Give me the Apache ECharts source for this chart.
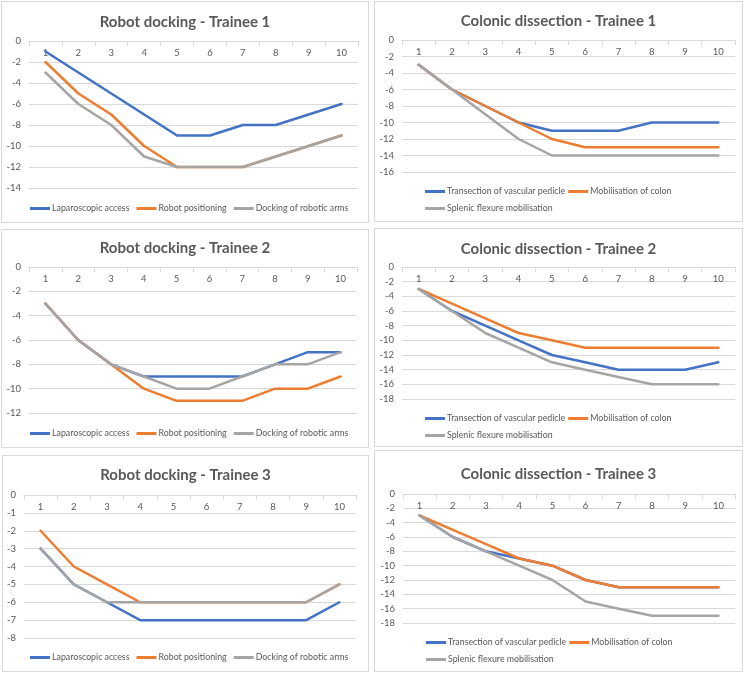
<!DOCTYPE html>
<html>
<head>
<meta charset="utf-8">
<script src="https://cdn.jsdelivr.net/npm/echarts@6/dist/echarts.min.js"></script>
<style>
  html, body { margin: 0; padding: 0; background: #ffffff; }
  body { width: 746px; height: 673px; position: relative; overflow: hidden; }
  .panel { position: absolute; box-sizing: border-box; border: 1px solid #D9D9D9; background: #fff; }
  .chart { position: absolute; left: 0; top: 0; width: 100%; height: 100%; }
</style>
</head>
<body>
<div class="panel" id="p1" style="left:1px;top:1px;width:368px;height:222px;"><div class="chart" id="c1"></div></div>
<div class="panel" id="p2" style="left:374px;top:1px;width:369px;height:221px;"><div class="chart" id="c2"></div></div>
<div class="panel" id="p3" style="left:1px;top:229px;width:368px;height:219px;"><div class="chart" id="c3"></div></div>
<div class="panel" id="p4" style="left:374px;top:228px;width:369px;height:219px;"><div class="chart" id="c4"></div></div>
<div class="panel" id="p5" style="left:2px;top:455px;width:367px;height:217px;"><div class="chart" id="c5"></div></div>
<div class="panel" id="p6" style="left:374px;top:450px;width:369px;height:222px;"><div class="chart" id="c6"></div></div>
<script>
// ---- Data ----
const categories = ['1', '2', '3', '4', '5', '6', '7', '8', '9', '10'];
const robotNames = ['Laparoscopic access', 'Robot positioning', 'Docking of robotic arms'];
const colonNames = ['Transection of vascular pedicle', 'Mobilisation of colon', 'Splenic flexure mobilisation'];
const titles = [
  'Robot docking - Trainee 1', 'Colonic dissection - Trainee 1',
  'Robot docking - Trainee 2', 'Colonic dissection - Trainee 2',
  'Robot docking - Trainee 3', 'Colonic dissection - Trainee 3'
];

// Robot docking - Trainee 1
const rd1Lap  = [-1, -3, -5, -7, -9, -9, -8, -8, -7, -6];
const rd1Pos  = [-2, -5, -7, -10, -12, -12, -12, -11, -10, -9];
const rd1Dock = [-3, -6, -8, -11, -12, -12, -12, -11, -10, -9];
// Colonic dissection - Trainee 1
const cd1Trans  = [-3, -6, -8, -10, -11, -11, -11, -10, -10, -10];
const cd1Mob    = [-3, -6, -8, -10, -12, -13, -13, -13, -13, -13];
const cd1Splen  = [-3, -6, -9, -12, -14, -14, -14, -14, -14, -14];
// Robot docking - Trainee 2
const rd2Lap  = [-3, -6, -8, -9, -9, -9, -9, -8, -7, -7];
const rd2Pos  = [-3, -6, -8, -10, -11, -11, -11, -10, -10, -9];
const rd2Dock = [-3, -6, -8, -9, -10, -10, -9, -8, -8, -7];
// Colonic dissection - Trainee 2
const cd2Trans  = [-3, -6, -8, -10, -12, -13, -14, -14, -14, -13];
const cd2Mob    = [-3, -5, -7, -9, -10, -11, -11, -11, -11, -11];
const cd2Splen  = [-3, -6, -9, -11, -13, -14, -15, -16, -16, -16];
// Robot docking - Trainee 3
const rd3Lap  = [-3, -5, -6, -7, -7, -7, -7, -7, -7, -6];
const rd3Pos  = [-2, -4, -5, -6, -6, -6, -6, -6, -6, -5];
const rd3Dock = [-3, -5, -6, -6, -6, -6, -6, -6, -6, -5];
// Colonic dissection - Trainee 3
const cd3Trans  = [-3, -6, -8, -9, -10, -12, -13, -13, -13, -13];
const cd3Mob    = [-3, -5, -7, -9, -10, -12, -13, -13, -13, -13];
const cd3Splen  = [-3, -6, -8, -10, -12, -15, -16, -17, -17, -17];

// Y axis ranges (min, interval)
const yMins      = [-14, -16, -12, -18, -8, -18];
const yIntervals = [2, 2, 2, 2, 1, 2];

// ---- Styling / layout ----
const COLORS = ['#4472C4', '#ED7D31', '#A5A5A5'];
const TXT = '#595959';
const GRID = '#D9D9D9';
const FONT = 'Lato, "Open Sans", sans-serif';

const layouts = [
  { grid: { left: 27, top: 39, right: 10, bottom: 34 }, titleTop: 8, legendLeft: 28, legendTops: [202] },
  { grid: { left: 27, top: 38, right: 7, bottom: 49 }, titleTop: 7, legendLeft: 50, legendTops: [185, 202] },
  { grid: { left: 27, top: 37, right: 11, bottom: 34 }, titleTop: 6, legendLeft: 28, legendTops: [199] },
  { grid: { left: 27, top: 38, right: 7, bottom: 47 }, titleTop: 8, legendLeft: 50, legendTops: [185, 202] },
  { grid: { left: 21, top: 39, right: 12, bottom: 33 }, titleTop: 7, legendLeft: 27, legendTops: [197] },
  { grid: { left: 28, top: 43, right: 7, bottom: 48 }, titleTop: 11, legendLeft: 51, legendTops: [187, 204] }
];

const panelData = [
  [robotNames, [rd1Lap, rd1Pos, rd1Dock]],
  [colonNames, [cd1Trans, cd1Mob, cd1Splen]],
  [robotNames, [rd2Lap, rd2Pos, rd2Dock]],
  [colonNames, [cd2Trans, cd2Mob, cd2Splen]],
  [robotNames, [rd3Lap, rd3Pos, rd3Dock]],
  [colonNames, [cd3Trans, cd3Mob, cd3Splen]]
];

function makeLegend(data, left, top, gap) {
  return {
    data: data,
    orient: 'horizontal',
    left: left,
    top: top,
    width: 340,
    icon: 'rect',
    itemWidth: 20,
    itemHeight: 3,
    itemGap: gap,
    padding: 0,
    selectedMode: false,
    textStyle: { fontFamily: FONT, fontSize: 8.8, color: TXT, padding: [0, 0, 0, -3] }
  };
}

function buildOption(i) {
  const L = layouts[i];
  const names = panelData[i][0];
  const values = panelData[i][1];
  const isColon = names === colonNames;
  const legends = isColon
    ? [makeLegend([names[0], names[1]], L.legendLeft, L.legendTops[0], 3),
       makeLegend([names[2]], L.legendLeft, L.legendTops[1], 3)]
    : [makeLegend(names, L.legendLeft, L.legendTops[0], 7)];
  return {
    animation: false,
    textStyle: { fontFamily: FONT },
    title: {
      text: titles[i],
      left: 'center',
      top: L.titleTop,
      textStyle: { fontFamily: FONT, fontSize: 15, fontWeight: 'bold', color: TXT }
    },
    legend: legends,
    grid: Object.assign({ containLabel: false }, L.grid),
    xAxis: {
      type: 'category',
      data: categories,
      position: 'top',
      boundaryGap: true,
      axisLine: { show: true, lineStyle: { color: GRID, width: 1 } },
      axisTick: { show: true, inside: true, length: 5, lineStyle: { color: GRID } },
      axisLabel: { inside: true, margin: 7, color: TXT, fontSize: 9.5, fontFamily: FONT },
      splitLine: { show: false }
    },
    yAxis: {
      type: 'value',
      min: yMins[i],
      max: 0,
      interval: yIntervals[i],
      axisLine: { show: false },
      axisTick: { show: false },
      axisLabel: { color: TXT, fontSize: 9.5, margin: 8, fontFamily: FONT },
      splitLine: { show: true, lineStyle: { color: GRID, width: 1 } }
    },
    series: names.map((n, k) => ({
      name: n,
      type: 'line',
      data: values[k],
      symbol: 'none',
      smooth: false,
      color: COLORS[k],
      lineStyle: { color: COLORS[k], width: 2.5, join: 'round', cap: 'round' },
      emphasis: { disabled: true }
    }))
  };
}

for (let i = 0; i < 6; i++) {
  const chart = echarts.init(document.getElementById('c' + (i + 1)), null, { renderer: 'canvas' });
  chart.setOption(buildOption(i));
}
</script>
</body>
</html>
